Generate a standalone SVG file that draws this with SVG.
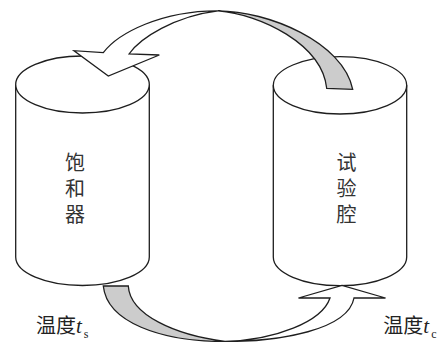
<svg xmlns="http://www.w3.org/2000/svg" width="444" height="342" viewBox="0 0 444 342">
<style>
.ln{fill:none;stroke:#1e1e1e;stroke-width:1.3;stroke-linejoin:miter}
.body{fill:#fff;stroke:#1e1e1e;stroke-width:1.3}
.wh{fill:#fff;stroke:#1e1e1e;stroke-width:1.3;stroke-linejoin:miter}
.gr{fill:#cccccc;stroke:#1e1e1e;stroke-width:1.3;stroke-linejoin:miter}
.cjk{font-family:"Noto Sans CJK SC","Noto Sans CJK TC",sans-serif;font-size:20px;fill:#333}
.vt{writing-mode:vertical-rl;letter-spacing:6px}
.lbl{font-family:"Noto Sans CJK SC","Noto Sans CJK TC",sans-serif;font-size:20px;fill:#222}
.it{font-family:"Liberation Serif",serif;font-style:italic;font-size:21px}
.sub{font-family:"Liberation Serif",serif;font-size:12px}
</style>
<rect width="444" height="342" fill="#fff"/>
<g id="saturator">
<path class="body" d="M15.7,84.5 V257 A66.8,28.5 0 0 0 149.3,257 V84.5"/>
<ellipse class="body" cx="82.5" cy="84.5" rx="66.8" ry="28.5"/>
<text class="cjk vt" x="75" y="152">饱和器</text>
</g>
<g id="chamber">
<path class="body" d="M273.3,85.3 V257 A66.7,28.7 0 0 0 406.7,257 V85.3"/>
<ellipse class="body" cx="340" cy="85.3" rx="66.7" ry="28.7"/>
<text class="cjk vt" x="346.5" y="152">试验腔</text>
</g>
<g id="connectors">
<path class="gr" d="M218,10.8 C268,11 343,42 352.7,89.3 L326.7,88.3 C322,44 260,14 218,10.8 Z"/>
<path class="wh" d="M103.3,52.7 C118,33 162,10.5 218,10.8 C175,16 140,38 129,54 L159.3,55 L108.3,76 L74,50.7 Z"/>
<path class="gr" d="M103.3,286 C107,322 160,341.5 225,341.5 C175,335 130,315 128.3,286 Z"/>
<path class="wh" d="M225,341.5 C280,341.5 348,330 354,298 L385.5,298 L342,285.5 L298.5,298 L330,298 C322,322 275,340 225,341.5 Z"/>
</g>
<g id="label-ts">
<text class="lbl" x="36" y="333">温度<tspan class="it">t</tspan><tspan class="sub" dx="2" dy="5">s</tspan></text>
</g>
<g id="label-tc">
<text class="lbl" x="383.3" y="333">温度<tspan class="it">t</tspan><tspan class="sub" dx="2" dy="5">c</tspan></text>
</g>
</svg>
